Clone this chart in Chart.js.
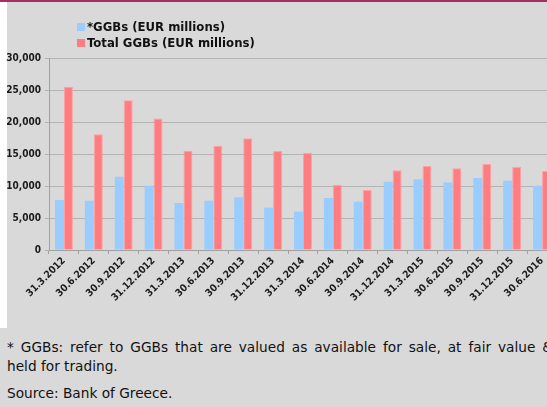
<!DOCTYPE html>
<html lang="en">
<head>
    <meta charset="UTF-8">
    <title>GGBs held by banks</title>
    <script src="https://cdn.jsdelivr.net/npm/chart.js"></script>
    <style>
        body {
            margin: 0;
            width: 547px;
            height: 407px;
            overflow: hidden;
            background: #d9d9d9;
            position: relative;
            font-family: "DejaVu Sans Condensed", "DejaVu Sans", sans-serif;
        }
        #topLine {
            position: absolute; left: 0; top: 0; width: 547px; height: 2px;
            background: #a2305f;
        }
        #whiteStrip {
            position: absolute; left: 0; top: 2px; width: 7px; height: 326px;
            background: #ffffff;
        }
        #chartBox {
            position: absolute; left: 0; top: 0;
        }
        #legend {
            position: absolute; left: 77px; top: 19px;
            font-weight: bold; font-size: 13px; color: #111;
            line-height: 16px;
        }
        #legend span.box {
            display: inline-block; width: 8px; height: 8px; margin-right: 2px;
        }
        #notes {
            position: absolute; left: 7px; top: 338px;
            font-family: "DejaVu Sans", sans-serif;
            font-size: 13.7px; color: #111;
        }
        #notes div { line-height: 19px; white-space: nowrap; }
        #notes div.just {
            width: 546px; white-space: normal;
            text-align: justify; text-align-last: justify;
        }
        #notes div.src { margin-top: 8px; }
    </style>
</head>
<body>
    <div id="topLine"></div>
    <div id="whiteStrip"></div>
    <div id="chartBox"><canvas id="chart" width="557" height="330"></canvas></div>
    <div id="legend">
        <div><span class="box" style="background:#99ccff"></span>*GGBs (EUR millions)</div>
        <div><span class="box" style="background:#ff7c80"></span>Total GGBs (EUR millions)</div>
    </div>
    <div id="notes">
        <div class="just">* GGBs: refer to GGBs that are valued as available for sale, at fair value &amp;</div>
        <div>held for trading.</div>
        <div class="src">Source: Bank of Greece.</div>
    </div>

    <script>
        const dates = ['31.3.2012', '30.6.2012', '30.9.2012', '31.12.2012', '31.3.2013', '30.6.2013',
            '30.9.2013', '31.12.2013', '31.3.2014', '30.6.2014', '30.9.2014', '31.12.2014',
            '31.3.2015', '30.6.2015', '30.9.2015', '31.12.2015', '30.6.2016'];
        const ggbs = [7800, 7700, 11450, 10050, 7350, 7700, 8230, 6620, 6000, 8130, 7550, 10670,
            11040, 10570, 11250, 10830, 10050];
        const totalGgbs = [25500, 18100, 23400, 20550, 15520, 16300, 17450, 15470, 15200, 10200, 9380, 12450,
            13130, 12760, 13440, 12970, 12340];

        const tickFont = { family: 'DejaVu Sans Condensed', weight: 'bold', size: 10 };

        new Chart(document.getElementById('chart'), {
            type: 'bar',
            data: {
                labels: dates,
                datasets: [
                    { label: '*GGBs (EUR millions)', data: ggbs, backgroundColor: '#99ccff' },
                    { label: 'Total GGBs (EUR millions)', data: totalGgbs, backgroundColor: '#ff7c80',
                      borderColor: '#ffa0a3', borderWidth: 1 }
                ]
            },
            options: {
                responsive: false,
                animation: false,
                layout: { padding: { top: 58, left: 0, right: 0, bottom: 0 } },
                datasets: { bar: { categoryPercentage: 0.6, barPercentage: 1.0 } },
                plugins: { legend: { display: false }, tooltip: { enabled: false } },
                scales: {
                    x: {
                        afterFit: s => { s.height = 80; },
                        grid: { drawOnChartArea: false, color: '#a0a0a0', tickLength: 4 },
                        border: { color: '#a0a0a0' },
                        ticks: { minRotation: 45, maxRotation: 45, color: '#1a1a1a', font: tickFont, padding: 1 }
                    },
                    y: {
                        min: 0, max: 30000,
                        afterFit: s => { s.width = 49; },
                        grid: { color: '#b4b4b4', tickLength: 4 },
                        border: { color: '#a0a0a0' },
                        ticks: {
                            stepSize: 5000, color: '#1a1a1a', font: tickFont, padding: 4,
                            callback: v => v.toLocaleString('en-US')
                        }
                    }
                }
            }
        });
    </script>
</body>
</html>
